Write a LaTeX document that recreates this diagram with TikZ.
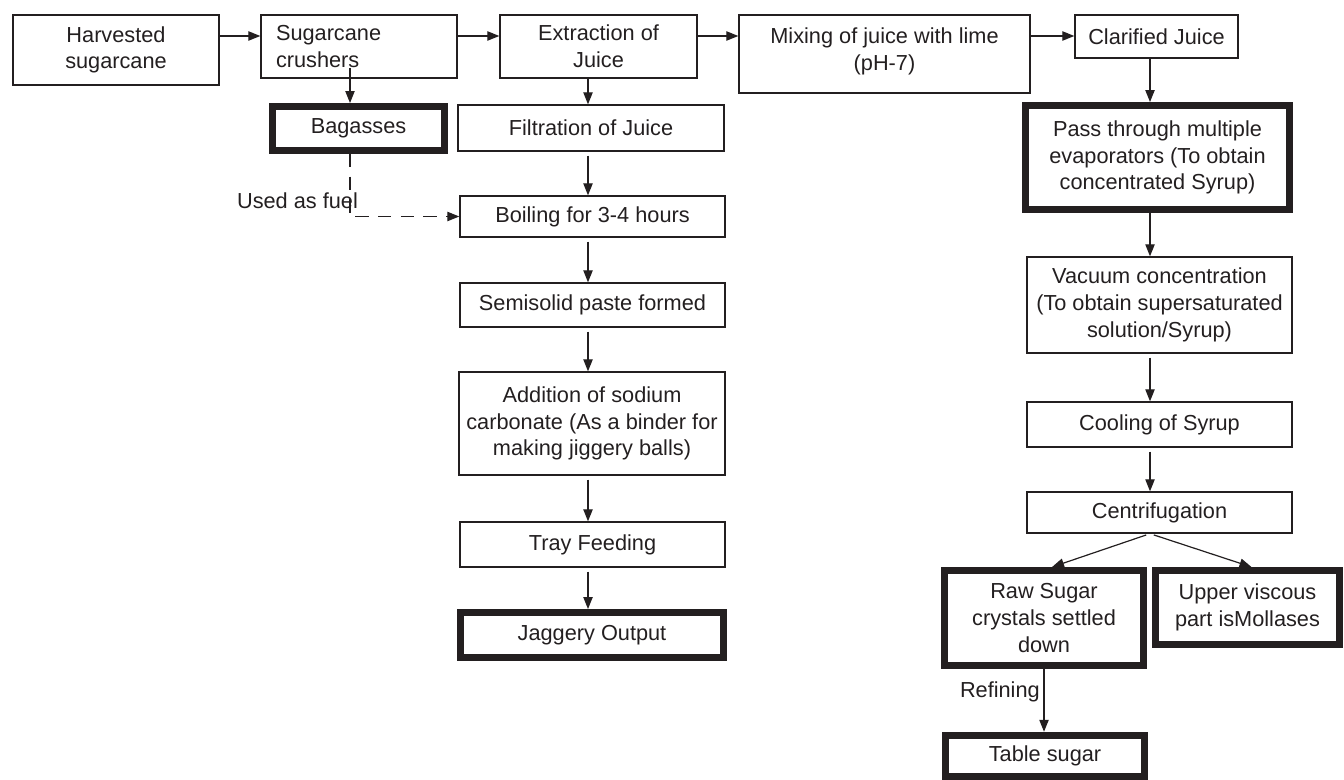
\documentclass[tikz,border=0pt]{standalone}
\usepackage{fontspec}
\setmainfont{Liberation Sans}
\usetikzlibrary{arrows.meta, positioning}
\definecolor{ProcInk}{HTML}{231F20}

\begin{document}
\begin{tikzpicture}[
    x=0.75pt, y=-0.75pt,          % one unit = one pixel, y downwards
    font=\fontsize{16.3}{20}\selectfont,
    stepbox/.style={draw=ProcInk, text=ProcInk, line width=1pt, align=center, inner sep=0pt},
    keybox/.style={stepbox, line width=5.2pt},
    sz/.style 2 args={minimum width=#1*0.75pt, minimum height=#2*0.75pt},
    flow/.style={draw=ProcInk, line width=0.9pt, -{Triangle[length=9pt,width=7pt]}},
    gap/.style={shorten <=3pt},
    fuel/.style={flow, dash pattern=on 10pt off 7pt},
    tag/.style={inner sep=0pt, text=ProcInk}
]
    \useasboundingbox (0,0) rectangle (1344,780);

    % --- Guide lines for the connectors ---
    \coordinate (toprow) at (0,36);
    \coordinate (bagx) at (350,0);
    \coordinate (midx) at (588,0);
    \coordinate (sugx) at (1150,0);

    % --- 1. Top row ---
    \node[stepbox, sz={206}{70}] (harv) at (116,50) {Harvested\\sugarcane};
    \node[stepbox, sz={196}{63}, align=left, text width=124.5pt] (crush) at (359,46.5) {Sugarcane\\crushers};
    \node[stepbox, sz={197}{63}] (extr) at (598.5,46.5) {Extraction of\\Juice};
    \node[stepbox, sz={291}{78}] (mix) at (884.5,54) {Mixing of juice with lime\\(pH-7)\\[-13pt]\mbox{}};
    \node[stepbox, sz={163}{43}] (clar) at (1156.5,36.5) {Clarified Juice};

    % --- 2. Jaggery line ---
    \node[keybox, sz={172}{44}] (bag) at (358.5,128.5) {Bagasses};
    \node[stepbox, sz={266}{46}] (filt) at (591,128) {Filtration of Juice};
    \node[stepbox, sz={265}{41}] (boil) at (592.5,216.5) {Boiling for 3-4 hours};
    \node[stepbox, sz={265}{44}] (semi) at (592.5,305) {Semisolid paste formed};
    \node[stepbox, sz={266}{103}] (addn) at (592,423.5) {Addition of sodium\\carbonate (As a binder for\\making jiggery balls)};
    \node[stepbox, sz={265}{45}] (tray) at (592.5,544.5) {Tray Feeding};
    \node[keybox, sz={263}{45}] (jag) at (592,635) {Jaggery Output};

    % --- 3. Sugar line ---
    \node[keybox, sz={264}{104}] (pass) at (1157.5,157.5) {Pass through multiple\\evaporators (To obtain\\concentrated Syrup)};
    \node[stepbox, sz={265}{96}] (vac) at (1159.5,305) {Vacuum concentration\\(To obtain supersaturated\\solution/Syrup)};
    \node[stepbox, sz={265}{45}] (cool) at (1159.5,424.5) {Cooling of Syrup};
    \node[stepbox, sz={265}{41}] (cent) at (1159.5,512.5) {Centrifugation};
    \node[keybox, sz={199}{95}] (raw) at (1044,618) {Raw Sugar\\crystals settled\\down};
    \node[keybox, sz={184}{74}] (upper) at (1247.5,607.5) {Upper viscous\\part isMollases};
    \node[keybox, sz={199}{41.5}] (table) at (1045,756) {Table sugar};

    % --- 4. Connectors ---
    \draw[flow] (harv.east |- toprow) -- (crush.west |- toprow);
    \draw[flow] (crush.east |- toprow) -- (extr.west |- toprow);
    \draw[flow] (extr.east |- toprow) -- (mix.west |- toprow);
    \draw[flow] (mix.east |- toprow) -- (clar.west |- toprow);

    \path (crush.south -| bagx) ++(0,-11) coordinate (crushin);
    \draw[flow] (crushin) -- (bag.north -| bagx);
    \draw[fuel] (bag.south -| bagx) |- (boil.west);

    \draw[flow] (extr.south -| midx) -- (filt.north -| midx);
    \draw[flow, gap] (filt.south -| midx) -- (boil.north -| midx);
    \draw[flow, gap] (boil.south -| midx) -- (semi.north -| midx);
    \draw[flow, gap] (semi.south -| midx) -- (addn.north -| midx);
    \draw[flow, gap] (addn.south -| midx) -- (tray.north -| midx);
    \draw[flow, gap] (tray.south -| midx) -- (jag.north -| midx);

    \draw[flow] (clar.south -| sugx) -- (pass.north -| sugx);
    \draw[flow] (pass.south -| sugx) -- (vac.north -| sugx);
    \draw[flow, gap] (vac.south -| sugx) -- (cool.north -| sugx);
    \draw[flow, gap] (cool.south -| sugx) -- (cent.north -| sugx);
    \draw[flow, gap] (cent.south -| sugx) -- ([xshift=6pt]raw.north);
    \draw[flow, gap] (cent.south -| sugx) -- ([xshift=3pt]upper.north);
    \draw[flow] (raw.south) -- (table.north -| raw.south);

    % --- 5. Labels ---
    \node[tag, anchor=base] (fuellbl) at (297.5,209) {Used as fuel};
    \node[tag, anchor=base east] (reflbl) at (1040,697) {Refining};

\end{tikzpicture}
\end{document}
